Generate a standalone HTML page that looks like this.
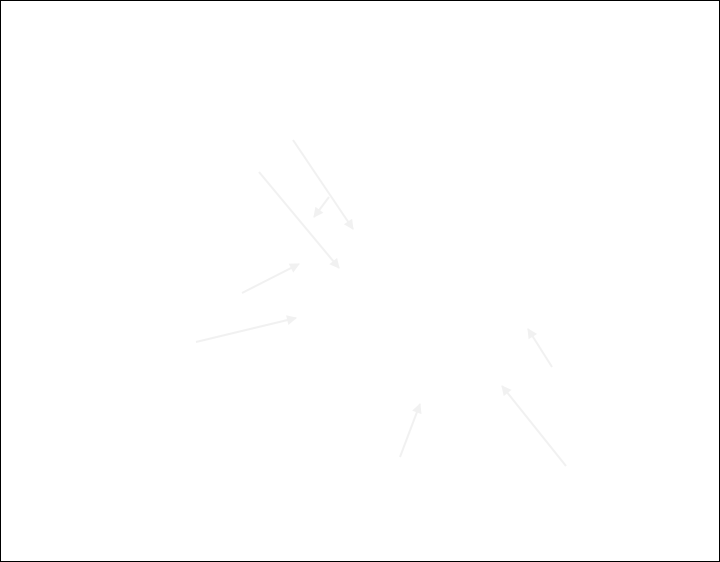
<!DOCTYPE html>
<html><head><meta charset="utf-8"><style>
html,body{margin:0;padding:0;background:#fff;}
.wrap{width:720px;height:562px;position:relative;box-sizing:border-box;border:1px solid #000;background:#fff;overflow:hidden;}
svg{position:absolute;left:-1px;top:-1px;}
</style></head><body><div class="wrap">
<svg width="720" height="562" viewBox="0 0 720 562" xmlns="http://www.w3.org/2000/svg">
<defs>
<marker id="b" viewBox="0 0 10 10" refX="9" refY="5" markerWidth="11" markerHeight="10" orient="auto" markerUnits="userSpaceOnUse"><path d="M0,0 L10,5 L0,10 z" fill="#f1f1f1"/></marker></defs>
<g stroke="#f1f1f1" stroke-width="2" fill="none">
<line x1="293" y1="140" x2="353" y2="229" marker-end="url(#b)"/>
<line x1="259" y1="172" x2="339" y2="268" marker-end="url(#b)"/>
<line x1="329" y1="197" x2="314" y2="217" marker-end="url(#b)"/>
<line x1="242" y1="293" x2="299" y2="264" marker-end="url(#b)"/>
<line x1="196" y1="342" x2="296" y2="318" marker-end="url(#b)"/>
<line x1="552" y1="367" x2="528" y2="329" marker-end="url(#b)"/>
<line x1="566" y1="466" x2="502" y2="386" marker-end="url(#b)"/>
<line x1="400" y1="457" x2="420" y2="404" marker-end="url(#b)"/>
</g>
</svg>
</div></body></html>
